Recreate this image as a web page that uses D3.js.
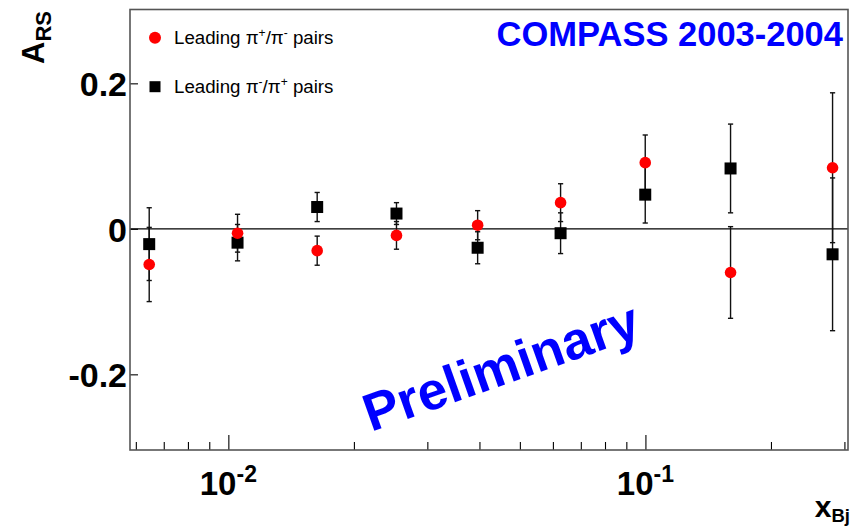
<!DOCTYPE html>
<html>
<head>
<meta charset="utf-8">
<script src="https://cdn.jsdelivr.net/npm/d3@7"></script>
<style>
  html, body { margin: 0; padding: 0; background: #fff; }
  svg { display: block; font-family: "Liberation Sans", Arial, Helvetica, sans-serif; }
</style>
</head>
<body>
<svg id="chart" width="861" height="526"></svg>
<script>
// x_Bj bin centres
const xBins = [0.00646, 0.01052, 0.01633, 0.0253, 0.0396, 0.0626, 0.0999, 0.160, 0.281];
// Leading pi+/pi- pairs
const aPlusMinus   = [-0.049, -0.006, -0.030, -0.009, 0.005, 0.036, 0.091, -0.060, 0.084];
const errPlusMinus = [0.051, 0.026, 0.020, 0.019, 0.020, 0.026, 0.038, 0.063, 0.103];
// Leading pi-/pi+ pairs
const aMinusPlus   = [-0.021, -0.019, 0.030, 0.021, -0.026, -0.006, 0.047, 0.083, -0.035];
const errMinusPlus = [0.050, 0.025, 0.020, 0.015, 0.022, 0.028, 0.039, 0.061, 0.105];
// axis ticks
const yTicks = [-0.2, 0, 0.2];
const xMajorTicks = [0.01, 0.1];
const xMajorExponents = ["-2", "-1"];
const xMinorTicks = [0.006, 0.007, 0.008, 0.009, 0.02, 0.03, 0.04, 0.05, 0.06, 0.07, 0.08, 0.09, 0.2, 0.3];

const svg = d3.select("#chart");
const plotLeft = 130, plotRight = 848, plotTop = 9.5, plotBottom = 450;

const x = d3.scaleLog().domain([0.00581, 0.306]).range([plotLeft, plotRight]);
const y = d3.scaleLinear().domain([-0.304, 0.3015]).range([plotBottom, plotTop]);

svg.append("rect").attr("width", 861).attr("height", 526).attr("fill", "#fff");

// zero line
svg.append("line")
  .attr("x1", plotLeft).attr("x2", plotRight)
  .attr("y1", y(0)).attr("y2", y(0))
  .attr("stroke", "#000").attr("stroke-width", 1.2);

// bottom axis: minor + major ticks pointing inward
const gxMinor = svg.append("g").attr("transform", `translate(0,${plotBottom})`)
  .call(d3.axisBottom(x).tickValues(xMinorTicks).tickSizeInner(-8).tickSizeOuter(0).tickFormat(""));
const gxMajor = svg.append("g").attr("transform", `translate(0,${plotBottom})`)
  .call(d3.axisBottom(x).tickValues(xMajorTicks).tickSizeInner(-15).tickSizeOuter(0).tickFormat(""));
[gxMinor, gxMajor].forEach(g => {
  g.select(".domain").remove();
  g.selectAll(".tick line").attr("stroke", "#000").attr("stroke-width", 1.1);
});

// decade labels 10^n
const xl = svg.append("g");
xMajorTicks.forEach((v, i) => {
  const t = xl.append("text")
    .attr("x", x(v)).attr("y", 495)
    .attr("text-anchor", "middle")
    .attr("font-size", 33).attr("font-weight", "bold").attr("fill", "#000");
  t.append("tspan").text("10");
  t.append("tspan").attr("font-size", 23).attr("dy", -13).text(xMajorExponents[i]);
});

// left axis
const gy = svg.append("g").attr("transform", `translate(${plotLeft},0)`)
  .call(d3.axisLeft(y).tickValues(yTicks).tickSizeInner(-8).tickSizeOuter(0).tickPadding(3)
    .tickFormat(d => d === 0 ? "0" : String(d)));
gy.select(".domain").remove();
gy.selectAll(".tick line").attr("stroke", "#000").attr("stroke-width", 1.1);
gy.selectAll(".tick text").attr("font-size", 34).attr("font-weight", "bold")
  .attr("fill", "#000").attr("dy", "0.36em")
  .attr("font-family", "'Liberation Sans', Arial, Helvetica, sans-serif");

// frame
svg.append("rect")
  .attr("x", plotLeft).attr("y", plotTop)
  .attr("width", plotRight - plotLeft).attr("height", plotBottom - plotTop)
  .attr("fill", "none").attr("stroke", "#555").attr("stroke-width", 1.6);

// error bars
function errorBars(vals, errs, cls) {
  const g = svg.append("g").attr("class", cls);
  const cap = 2.6;
  xBins.forEach((xv, i) => {
    const cx = x(xv), y1 = y(vals[i] + errs[i]), y2 = y(vals[i] - errs[i]);
    g.append("line").attr("x1", cx).attr("x2", cx).attr("y1", y1).attr("y2", y2)
      .attr("stroke", "#111").attr("stroke-width", 1.4);
    [y1, y2].forEach(yy => g.append("line")
      .attr("x1", cx - cap).attr("x2", cx + cap).attr("y1", yy).attr("y2", yy)
      .attr("stroke", "#111").attr("stroke-width", 1.4));
  });
}
errorBars(aPlusMinus, errPlusMinus, "err-pm");
errorBars(aMinusPlus, errMinusPlus, "err-mp");

// markers
const sq = 12;
svg.append("g").selectAll("rect").data(xBins).join("rect")
  .attr("x", (d, i) => x(d) - sq / 2).attr("y", (d, i) => y(aMinusPlus[i]) - sq / 2)
  .attr("width", sq).attr("height", sq).attr("fill", "#000");
svg.append("g").selectAll("circle").data(xBins).join("circle")
  .attr("cx", d => x(d)).attr("cy", (d, i) => y(aPlusMinus[i]))
  .attr("r", 5.8).attr("fill", "#ff0000");

// legend
const lg = svg.append("g");
lg.append("circle").attr("cx", 155).attr("cy", 37.7).attr("r", 6).attr("fill", "#ff0000");
lg.append("rect").attr("x", 155 - 5.5).attr("y", 86.7 - 5.5).attr("width", 11).attr("height", 11).attr("fill", "#000");
function legendText(yPos, s1, s2) {
  const t = lg.append("text").attr("x", 174).attr("y", yPos).attr("font-size", 18.7).attr("fill", "#000");
  t.append("tspan").text("Leading π");
  t.append("tspan").attr("font-size", 12).attr("dy", -7).text(s1);
  t.append("tspan").attr("dy", 7).text("/π");
  t.append("tspan").attr("font-size", 12).attr("dy", -7).text(s2);
  t.append("tspan").attr("dy", 7).text(" pairs");
}
legendText(43.5, "+", "-");
legendText(92.5, "-", "+");

// title
svg.append("text").attr("x", 843).attr("y", 46).attr("text-anchor", "end")
  .attr("font-size", 34.5).attr("font-weight", "bold").attr("fill", "#0000ff")
  .text("COMPASS 2003-2004");

// watermark
svg.append("text").attr("transform", "translate(371,432) rotate(-19.5)")
  .attr("font-size", 53).attr("font-weight", "bold").attr("fill", "#0000ff")
  .text("Preliminary");

// axis titles
const xt = svg.append("text").attr("x", 850).attr("y", 517).attr("text-anchor", "end")
  .attr("font-size", 30).attr("font-weight", "bold").attr("fill", "#000");
xt.append("tspan").text("x");
xt.append("tspan").attr("font-size", 18.5).attr("dy", 4.5).text("Bj");

const yt = svg.append("text").attr("transform", "translate(44,11) rotate(-90)")
  .attr("text-anchor", "end")
  .attr("font-size", 31).attr("font-weight", "bold").attr("fill", "#000");
yt.append("tspan").text("A");
yt.append("tspan").attr("font-size", 22).attr("dy", 7).text("RS");
</script>
</body>
</html>
